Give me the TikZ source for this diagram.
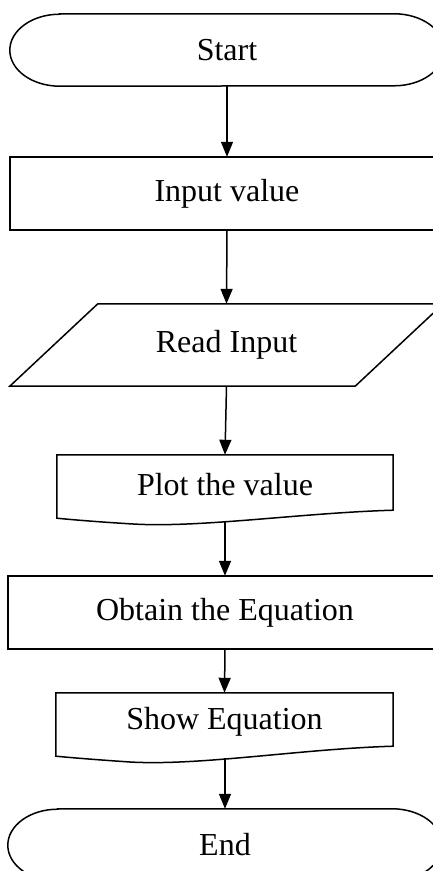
\documentclass[tikz,border=0pt]{standalone}
\usepackage{fontspec}
\setmainfont{Liberation Serif}
\usetikzlibrary{arrows.meta,calc}
\begin{document}
\begin{tikzpicture}[x=1pt,y=1pt,
  box/.style={draw=none, rectangle, inner sep=0pt, font=\fontsize{32}{38}\selectfont},
  shp/.style={draw=black, line width=1.5pt, line join=miter},
  arr/.style={-{Triangle[length=15pt,width=12pt]}, line width=1.5pt}]
\useasboundingbox (0,0) rectangle (433,871);
\clip (0,0) rectangle (433,871);
% nodes
\node[box, minimum width=434pt, minimum height=72pt] (start) at (227,821) {Start};
\node[box, minimum width=434pt, minimum height=73pt] (input) at (227,677.5) {Input value};
\node[box, minimum width=345pt, minimum height=82pt] (read) at (226.5,526) {Read Input};
\node[box, minimum width=336pt, minimum height=59pt] (plot) at (225,386.5) {Plot the value};
\node[box, minimum width=434pt, minimum height=73pt] (obtain) at (225,258.5) {Obtain the Equation};
\node[box, minimum width=337pt, minimum height=58pt] (show) at (224.5,149) {Show Equation};
\node[box, minimum width=434pt, minimum height=72pt] (end) at (225,26) {End};
% shapes
\draw[shp] ($(start.north west)+(50,0)$) -- ($(start.north east)+(-50,0)$)
  arc[start angle=90,end angle=-90,x radius=50,y radius=36]
  -- ($(start.south west)+(50,0)$)
  arc[start angle=270,end angle=90,x radius=50,y radius=36] -- cycle;
\draw[shp] (input.north west) rectangle (input.south east);
\draw[shp] ($(read.north west)+(44,0)$) -- ($(read.north east)+(44,0)$)
  -- ($(read.south east)+(-44,0)$) -- ($(read.south west)+(-44,0)$) -- cycle;
\draw[shp] ($(plot.south west)+(0,-4)$) -- (plot.north west) -- (plot.north east)
  -- ($(plot.south east)+(0,4)$)
  .. controls (300,358) and (200,343) .. (133,347)
  .. controls (100,349) and (75,351) .. ($(plot.south west)+(0,-4)$) -- cycle;
\draw[shp] (obtain.north west) rectangle (obtain.south east);
\draw[shp] ($(show.south west)+(0,-5)$) -- (show.north west) -- (show.north east)
  -- ($(show.south east)+(0,5)$)
  .. controls (300,122) and (200,105) .. (130,109)
  .. controls (100,111) and (75,113) .. ($(show.south west)+(0,-5)$) -- cycle;
\draw[shp] ($(end.north west)+(50,0)$) -- ($(end.north east)+(-50,0)$)
  arc[start angle=90,end angle=-90,x radius=50,y radius=36]
  -- ($(end.south west)+(50,0)$)
  arc[start angle=270,end angle=90,x radius=50,y radius=36] -- cycle;
% connectors
\coordinate (plotout) at (225,350);
\coordinate (showout) at (225,113);
\draw[arr] (start.south) -- (input.north);
\draw[arr] (input.south) -- (read.north);
\draw[arr] (read.south) -- (plot.north);
\draw[arr] (plotout) -- (obtain.north);
\draw[arr] (obtain.south) -- (show.north);
\draw[arr] (showout) -- (end.north);
\end{tikzpicture}
\end{document}
